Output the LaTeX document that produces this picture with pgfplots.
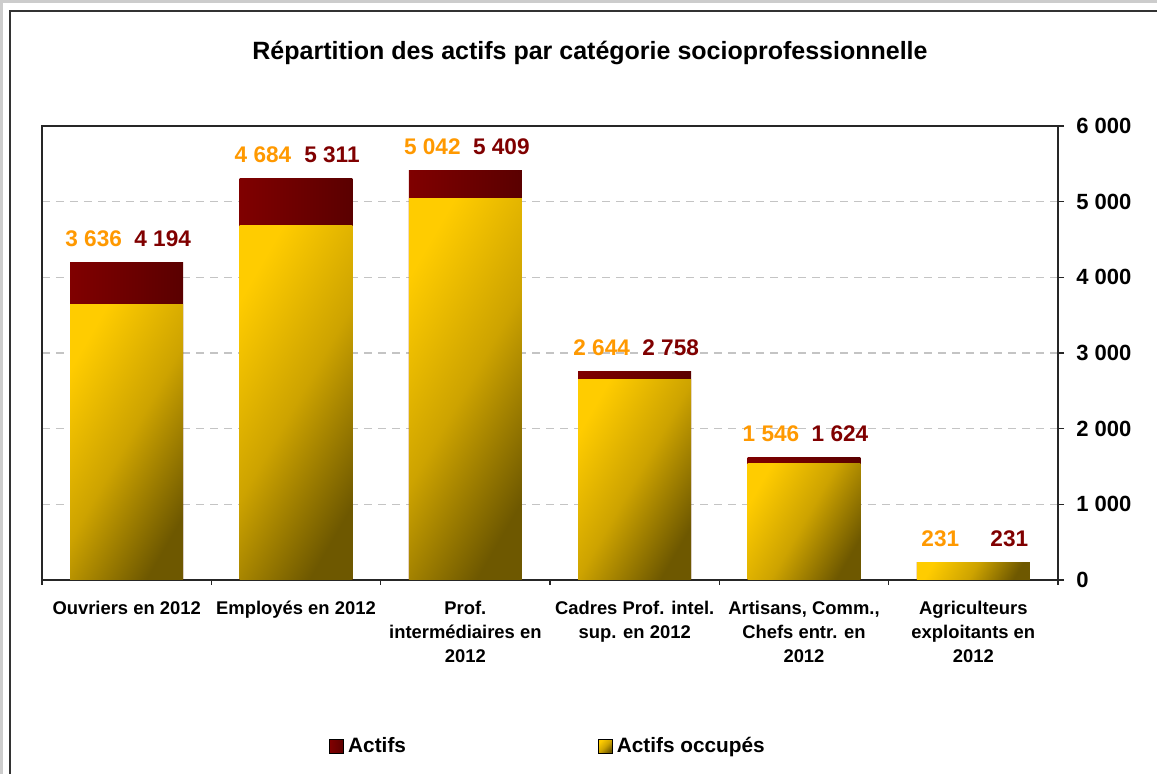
\documentclass[border=0pt]{standalone}
\usepackage{pgfplots}
\pgfplotsset{compat=1.18}
\usepackage{pgfplotstable}
\usepackage{fontspec}
\setmainfont{Liberation Sans}
\definecolor{redL}{HTML}{800000}
\definecolor{redD}{HTML}{5A0000}
\definecolor{yelL}{HTML}{FFCC00}
\definecolor{yelM}{HTML}{CDA300}
\definecolor{yelD}{HTML}{6E5800}
\definecolor{labOr}{HTML}{FF9900}
\definecolor{labRd}{HTML}{800000}
\definecolor{gridc}{HTML}{C4C4C4}

\pgfplotstableread{
x act occ
0 4194 3636
1 5311 4684
2 5409 5042
3 2758 2644
4 1624 1546
5 231 231
}\data

\pgfplotsset{
  redbar/.style={ybar, bar width=0.667, bar shift=0pt, draw=none, left color=redL, right color=redD, forget plot},
  yelbar/.style={ybar, bar width=0.667, bar shift=0pt, draw=none, top color=yelL, bottom color=yelD, middle color=yelM, shading angle=60, forget plot},
}

\begin{document}
\begin{tikzpicture}
\useasboundingbox (0,0) rectangle (578.5pt,-387pt);
\clip (0,0) rectangle (578.5pt,-387pt);
\fill[gray!40] (0,0) rectangle (578.5pt,-387pt);
\fill[white] (1.5pt,-1.5pt) rectangle (590pt,-400pt);
\draw[line width=0.8pt, black!80] (5pt,-400pt) -- (5pt,-5.5pt) -- (590pt,-5.5pt);
\node[font=\bfseries\fontsize{12.5}{14}\selectfont] at (295pt,-26.5pt) {Répartition des actifs par catégorie socioprofessionnelle};
\begin{axis}[
  at={(21pt,-290pt)}, anchor=south west,
  scale only axis, width=508pt, height=227pt,
  xmin=-0.5, xmax=5.5, ymin=0, ymax=6000,
  xtick={0,...,5},
  xticklabels={{Ouvriers en 2012},{Employés en 2012},{Prof.\\intermédiaires en\\2012},{Cadres Prof. intel.\\sup. en 2012},{Artisans, Comm.,\\Chefs entr. en\\2012},{Agriculteurs\\exploitants en\\2012}},
  xtick pos=bottom,
  minor xtick={-0.5,0.5,...,5.5},
  major x tick style={draw=none},
  minor x tick style={line width=0.8pt, black!85},
  minor tick length=2.5pt,
  xtick align=outside,
  xticklabel style={align=center, anchor=north, inner sep=0pt, yshift=-7.5pt, font=\bfseries\fontsize{9.2}{12}\selectfont},
  ytick={0,1000,...,6000},
  ytick pos=right, yticklabel pos=right,
  ytick align=outside,
  major tick length=3pt,
  y tick style={line width=0.8pt, black!85},
  yticklabel style={anchor=west, inner sep=0pt, xshift=6pt, font=\bfseries\fontsize{11}{12}\selectfont},
  scaled y ticks=false,
  /pgf/number format/.cd, assume math mode=true, 1000 sep={\ },
  /pgfplots/.cd,
  axis line style={line width=0.8pt, black!85},
  ymajorgrids,
  major grid style={gridc, line width=0.6pt, dash pattern=on 4pt off 3pt},
  legend style={draw=none, fill=none, at={(0.2825,-0.366)}, anchor=west, inner sep=0pt,
    font=\bfseries\fontsize{10.4}{12}\selectfont,
    /tikz/every even column/.append style={column sep=94pt}},
  legend columns=2,
  legend cell align=left,
]
\addlegendimage{legend image code/.code={\path[left color=redL, right color=redD] (0pt,-3.5pt) rectangle (7pt,3.5pt);}}
\addlegendentry{Actifs}
\addlegendimage{legend image code/.code={\path[top color=yelL, bottom color=yelD, middle color=yelM, shading angle=45] (0pt,-3.5pt) rectangle (7pt,3.5pt);}}
\addlegendentry{Actifs occupés}
% Actifs (behind)
\addplot[redbar] coordinates {(0,4194)};
\addplot[redbar] coordinates {(1,5311)};
\addplot[redbar] coordinates {(2,5409)};
\addplot[redbar] coordinates {(3,2758)};
\addplot[redbar] coordinates {(4,1624)};
\addplot[redbar] coordinates {(5,231)};
% Actifs occupés (front)
\addplot[yelbar] coordinates {(0,3636)};
\addplot[yelbar] coordinates {(1,4684)};
\addplot[yelbar] coordinates {(2,5042)};
\addplot[yelbar] coordinates {(3,2644)};
\addplot[yelbar] coordinates {(4,1546)};
\addplot[yelbar] coordinates {(5,231)};
% value labels
\addplot[draw=none, mark=none, forget plot, nodes near coords, point meta=explicit,
  nodes near coords style={text=labOr, anchor=base, inner sep=0pt, yshift=8pt, xshift=-16.5pt, font=\bfseries\fontsize{11.3}{12}\selectfont}]
  table[x=x,y=act,meta=occ]{\data};
\addplot[draw=none, mark=none, forget plot, nodes near coords, point meta=explicit,
  nodes near coords style={text=labRd, anchor=base, inner sep=0pt, yshift=8pt, xshift=18pt, font=\bfseries\fontsize{11.3}{12}\selectfont}]
  table[x=x,y=act,meta=act]{\data};
\end{axis}
\end{tikzpicture}
\end{document}
